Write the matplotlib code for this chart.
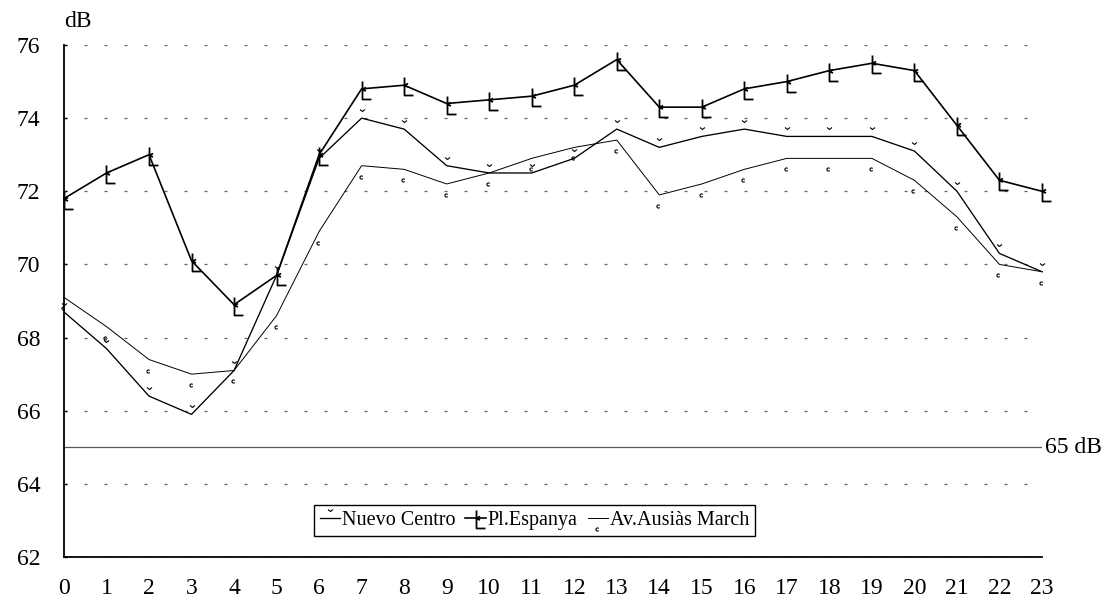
import matplotlib
matplotlib.use("Agg")
import matplotlib.pyplot as plt
import numpy as np
from matplotlib.path import Path

hours = list(range(24))
nuevo_centro = [68.7, 67.7, 66.4, 65.9, 67.1, 69.7, 72.9, 74.0, 73.7, 72.7, 72.5, 72.5,
                72.9, 73.7, 73.2, 73.5, 73.7, 73.5, 73.5, 73.5, 73.1, 72.0, 70.3, 69.8]
pl_espanya = [71.8, 72.5, 73.0, 70.1, 68.9, 69.7, 73.0, 74.8, 74.9, 74.4, 74.5, 74.6,
              74.9, 75.6, 74.3, 74.3, 74.8, 75.0, 75.3, 75.5, 75.3, 73.8, 72.3, 72.0]
ausias_march = [69.1, 68.3, 67.4, 67.0, 67.1, 68.6, 70.9, 72.7, 72.6, 72.2, 72.5, 72.9,
                73.2, 73.4, 71.9, 72.2, 72.6, 72.9, 72.9, 72.9, 72.3, 71.3, 70.0, 69.8]
labels = ["Nuevo Centro", "Pl.Espanya", "Av.Ausiàs March"]
y_ticks = [62, 64, 66, 68, 70, 72, 74, 76]
limit_db = 65

DPI = 100
plt.rcParams["font.family"] = ["Liberation Serif", "DejaVu Serif"]
plt.rcParams["lines.scale_dashes"] = False


def glyph_marker(pieces):
    """Build a path marker from polylines given in pixels; returns (path, markersize)."""
    verts, codes = [], []
    for pts in pieces:
        for i, p in enumerate(pts):
            verts.append(p)
            codes.append(Path.MOVETO if i == 0 else Path.LINETO)
    ext = np.max(np.abs(verts))
    return Path(verts, codes), 2 * ext * 72 / DPI


# "L" glyph for Pl.Espanya
l_path, l_ms = glyph_marker([[(0, 8), (0, -10), (9, -10)],
                             [(3.5, 2), (0, 0), (3.5, -1.5)]])
# small caron above the point for Nuevo Centro
v_path, v_ms = glyph_marker([[(-2.5, 9), (0, 7), (2.5, 9)]])
# small "c" below the point for Av.Ausiàs March
ang = np.radians(np.linspace(40, 320, 9))
c_path, c_ms = glyph_marker([list(zip(-1 + 1.6 * np.cos(ang), -11 + 1.6 * np.sin(ang)))])

fig = plt.figure(figsize=(11.16, 5.99), dpi=DPI)
ax = fig.add_axes([0.0573, 0.0701, 0.8764, 0.8548])

ax.plot(hours, nuevo_centro, color="black", lw=0.95, marker=v_path, ms=v_ms,
        mfc="none", mec="black", mew=0.8, label=labels[0], clip_on=False, zorder=3)
ax.plot(hours, pl_espanya, color="black", lw=1.2, marker=l_path, ms=l_ms,
        mfc="none", mec="black", mew=1.3, label=labels[1], clip_on=False, zorder=4)
ax.plot(hours, ausias_march, color="black", lw=0.7, marker=c_path, ms=c_ms,
        mfc="none", mec="black", mew=0.8, label=labels[2], clip_on=False, zorder=3)

ax.axhline(limit_db, color="0.35", lw=0.9, zorder=2)
ax.annotate(f"{limit_db} dB", xy=(23, limit_db), xytext=(2, 0), textcoords="offset points",
            ha="left", va="center", fontsize=17, annotation_clip=False)

ax.set_xlim(0, 23)
ax.set_ylim(62, 76)
ax.set_xticks(hours)
ax.set_yticks(y_ticks)
ax.yaxis.grid(True, linestyle=(0, (2.2, 12.2)), color="0.4", lw=0.9)
ax.set_axisbelow(True)

for side in ("top", "right"):
    ax.spines[side].set_visible(False)
ax.spines["left"].set_linewidth(1.3)
ax.spines["bottom"].set_linewidth(1.3)
ax.tick_params(axis="y", direction="in", length=2.5, width=1, pad=17, labelsize=17)
ax.tick_params(axis="x", length=0, pad=15, labelsize=17)

ax.text(0.0143, 1.045, "dB", transform=ax.transAxes, ha="center", va="center", fontsize=17)

leg = ax.legend(loc="center", bbox_to_anchor=(0.481, 0.072), ncol=3, fontsize=14.5,
                frameon=True, fancybox=False, edgecolor="black", framealpha=1,
                handlelength=1.0, handletextpad=0.1, columnspacing=0.5,
                borderpad=0.3, numpoints=1, borderaxespad=0)
leg.get_frame().set_linewidth(1.0)

fig.savefig("out.png", dpi=DPI)
